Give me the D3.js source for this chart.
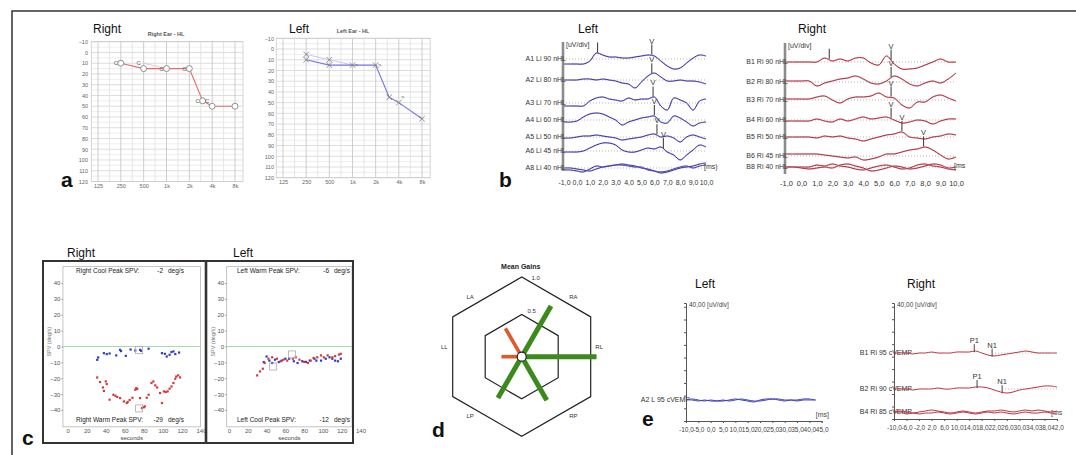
<!DOCTYPE html>
<html lang="en">
<head>
<meta charset="utf-8">
<title>Audiological and vestibular findings</title>
<style>
body { margin: 0; background: #fff; }
svg { display: block; }
svg text { font-family: "Liberation Sans", Arial, sans-serif; }
</style>
</head>
<body>
<script src="https://d3js.org/d3.v7.min.js"></script>
<script>
// ---------- a: audiograms ----------
var freqTicks = [125, 250, 500, 1000, 2000, 4000, 8000];
var freqTickLabels = ["125", "250", "500", "1k", "2k", "4k", "8k"];
var dbTicks = [-10, 0, 10, 20, 30, 40, 50, 60, 70, 80, 90, 100, 110, 120];
var rightAirFreq = [250, 500, 1000, 2000, 3000, 4000, 8000];
var rightAirDb = [10, 15, 15, 15, 45, 50, 50];
var rightBoneFreq = [250, 500, 1000, 2000, 3000, 4000];
var rightBoneDb = [10, 10, 15, 15, 45, 45];
var leftAirFreq = [250, 500, 1000, 2000, 3000, 4000, 8000];
var leftAirDb = [10, 15, 15, 15, 45, 50, 65];
var leftRetestFreq = [250, 500, 1000];
var leftRetestDb = [5, 10, 15];
var leftBoneFreq = [1000, 2000, 4000];
var leftBoneDb = [15, 15, 45];

// ---------- b: ABR ----------
var abrTimes = [-1, -0.5, 0, 0.5, 1, 1.5, 2, 2.5, 3, 3.5, 4, 4.5, 5, 5.5, 6, 6.5, 7, 7.5, 8, 8.5, 9, 9.5, 10];
var abrTicks = [-1, 0, 1, 2, 3, 4, 5, 6, 7, 8, 9, 10];
var abrTickLabels = ["-1,0", "0,0", "1,0", "2,0", "3,0", "4,0", "5,0", "6,0", "7,0", "8,0", "9,0", "10,0"];
var abrLeftNames = ["A1 Li 90 nHL", "A2 Li 80 nHL", "A3 Li 70 nHL", "A4 Li 60 nHL", "A5 Li 50 nHL", "A6 Li 45 nHL", "A8 Li 40 nHL"];
var abrLeftA1 = [-5, -5, -5, -5, -2, 6, 4, 2, 2, 1, 1, 2, 3, 4, 3, -2, -7, -10, -9, -4, 1, 4, 3];
var abrLeftA2 = [0, 0, 0, 1, 1, 0, 1, 0, -1, -3, -4, -8, -2, 4, 7, 3, -1, -1, 0, -1, -1, -2, -4];
var abrLeftA3 = [-3, -3, -3, -3, 2, 5, 6, 4, 3, 2, 5, 3, 4, 4, 6, -3, -7, 5, 3, 0, -7, 2, 4];
var abrLeftA4 = [-2, -2, -1, 3, 6, 7, 6, 3, 0, -5, -2, 0, 2, 3, 4, -2, -3, 4, 2, -2, -6, -3, -2];
var abrLeftA5 = [-1, -1, 0, 1, 1, 2, 1, 0, -1, -3, -2, -1, 0, 2, 3, 0, 1, -1, -5, 0, 2, 0, -2];
var abrLeftA6 = [-1, -1, -1, 0, 3, 6, 8, 8, 6, 1, -1, -1, 1, 3, 2, 4, -1, -4, -9, -4, 1, 6, 4];
var abrLeftA8 = [-2, -2, -3, -4, -1, 2, 1, 2, 3, 3, 2, 1, 1, -2, -3, -4, -3, -1, 1, 2, 0, 2, 3];
var abrLeftA8b = [0, 0, -1, -2, -3, -1, 1, 2, 3, 4, 3, 2, 0, -1, -3, -5, -4, -2, 0, 1, 2, 4, 5];
var abrLeftPeakRow = [0, 0, 1, 2, 3, 4, 5];
var abrLeftPeakTime = [1.6, 5.8, 5.8, 5.9, 6.0, 6.2, 6.7];
var abrLeftPeakName = ["I", "V", "V", "V", "V", "V", "V"];

var abrRightNames = ["B1 Ri 90 nHL", "B2 Ri 80 nHL", "B3 Ri 70 nHL", "B4 Ri 60 nHL", "B5 Ri 50 nHL", "B6 Ri 45 nHL", "B8 Ri 40 nHL"];
var abrRightB1 = [0, 0, 0, 0, 0, 4, 1, 3, 1, 4, 4, -1, -3, 6, -2, -7, -7, -6, -3, 0, 3, 0, 0];
var abrRightB2 = [1, 1, 1, 1, -4, -1, 1, 3, 4, 6, 3, -1, -2, 1, 6, 3, -2, -4, -1, 1, -1, 3, 9];
var abrRightB3 = [1, 1, 1, 1, 3, 4, 0, -3, 1, 3, 3, 4, 7, 3, 2, -5, -8, -2, -2, 3, 5, 2, -1];
var abrRightB4 = [-1, -1, -1, -1, 1, -1, -2, 1, -1, 1, 3, 1, 2, 3, 0, -3, -2, 0, -1, -4, -1, 1, 1];
var abrRightB5 = [0, 0, 0, 0, -1, 1, 0, 1, -1, -2, -4, -2, 0, 2, 3, 5, 0, -1, -2, 0, 1, 3, 2];
var abrRightB6 = [2, 2, 2, 2, 2, 1, 0, -1, -2, -1, -4, -3, -1, 2, 2, 4, 6, 7, 9, 6, 1, -3, -1];
var abrRightB8 = [0, 0, 0, 0, 2, 1, 3, 1, 0, -2, -3, -1, 1, 2, 0, -2, -1, 2, 3, 1, 0, -2, -3];
var abrRightB8b = [0, 0, -1, -2, -1, 0, -1, 2, 3, 1, -1, -4, -3, -1, 1, 0, -2, -1, 1, 3, 2, -1, 0];
var abrRightPeakRow = [0, 0, 1, 2, 3, 4, 5];
var abrRightPeakTime = [1.8, 5.8, 5.8, 5.8, 5.8, 6.5, 7.9];
var abrRightPeakName = ["I", "V", "V", "V", "V", "V", "V"];

// ---------- c: caloric test ----------
var spvTicks = [40, 30, 20, 10, 0, -10, -20, -30, -40];
var secTicks = [0, 20, 40, 60, 80, 100, 120, 140];
var rightCoolX = [31, 32, 38, 41, 44, 51, 55, 56, 61, 66, 71, 76, 77, 85, 99, 102, 104, 107, 109, 111, 113, 117];
var rightCoolY = [-8.4, -6.9, -4.2, -4.8, -4.4, -5.6, -2.1, -2.9, -5.9, -1.9, -2.5, -2.1, -2.7, -1.4, -4.2, -4.6, -6.3, -5.2, -3.5, -3.1, -4.8, -3.8];
var rightWarmX = [31, 34, 37, 38, 40, 41, 44, 48, 50, 52, 55, 59, 62, 63, 65, 68, 71, 72, 73, 76, 78, 80, 81, 83, 85, 88, 90, 92, 94, 97, 99, 101, 103, 105, 107, 109, 111, 113, 114, 116, 118];
var rightWarmY = [-19.5, -22.4, -25.8, -28, -22, -23.7, -33.5, -30.4, -31, -31.8, -32.5, -34.6, -35.6, -35, -33.7, -32.3, -27.2, -26.2, -26.8, -32.5, -38.8, -38.3, -37.7, -32.3, -30.4, -23, -22, -24.5, -25.8, -29.3, -35.6, -28.3, -28.7, -28.3, -26.6, -25.2, -23, -20.3, -18.9, -18.2, -19.5];
var leftWarmX = [30, 33, 36, 38, 42, 46, 51, 55, 58, 62, 68, 71, 75, 80, 84, 87, 90, 94, 98, 101, 105, 110, 113, 117, 119];
var leftWarmY = [-18.2, -15.7, -14, -10.4, -7.7, -6.8, -7.7, -9.3, -8.3, -8.9, -7.7, -6.8, -8.3, -9.7, -10.4, -8.9, -7.2, -6.8, -5.6, -6.8, -5.6, -6.8, -6.1, -5.1, -4.6];
var leftCoolX = [37, 40, 43, 46, 49, 53, 56, 60, 64, 69, 73, 78, 82, 86, 91, 93, 98, 103, 107, 110, 113, 116, 119];
var leftCoolY = [-9.8, -6.3, -8.9, -10.4, -8.3, -9.8, -8.9, -7.7, -7.7, -9.3, -10.4, -9.3, -9.7, -8.9, -7.7, -8.9, -8.9, -7.7, -6.8, -7.7, -8.9, -9.3, -7.7];
var rightPeakBoxX = [75, 75];
var rightPeakBoxY = [-2.3, -39];
var leftPeakBoxX = [47, 67];
var leftPeakBoxY = [-12.6, -5];

// ---------- d: vHIT mean gains ----------
var canalNames = ["RL", "RA", "LA", "LL", "LP", "RP"];
var canalAngles = [0, 60, 120, 180, 240, 300];
var canalGains = [1.09, 0.84, 0.44, 0.25, 0.67, 0.71];
var canalStatus = ["normal", "normal", "low", "low", "normal", "normal"];
var gainRings = [0.5, 1.0];
var gainRingLabels = ["0.5", "1.0"];

// ---------- e: cVEMP ----------
var vempLeftTimes = [-10, -7.5, -5, -2.5, 0, 2.5, 5, 7.5, 10, 12.5, 15, 17.5, 20, 22.5, 25, 27.5, 30, 32.5, 35, 37.5, 40, 42.5];
var vempLeftTicks = [-10, -5, 0, 5, 10, 15, 20, 25, 30, 35, 40, 45];
var vempLeftTickLabels = ["-10,0", "-5,0", "0,0", "5,0", "10,0", "15,0", "20,0", "25,0", "30,0", "35,0", "40,0", "45,0"];
var vempLeftA2 = [0, 0, -1, 0, -1, -1, 0, -1, 0, 1, 0, -1, -1, 0, 1, 1, 0, 0, -1, 0, 0, 0];
var vempLeftA2b = [0, 1, 0, -1, 0, -1, -1, 0, 1, 0, -1, -2, 0, 1, 1, 0, -1, 0, 0, 1, 1, 0];
var vempRightTimes = [-10, -8, -6, -4, -2, 0, 2, 4, 6, 8, 10, 12, 14, 16, 18, 20, 22, 24, 26, 28, 30, 32, 34, 36, 38, 40, 42];
var vempRightTicks = [-10, -6, -2, 2, 6, 10, 14, 18, 22, 26, 30, 34, 38, 42];
var vempRightTickLabels = ["-10,0", "-6,0", "-2,0", "2,0", "6,0", "10,0", "14,0", "18,0", "22,0", "26,0", "30,0", "34,0", "38,0", "42,0"];
var vempRightNames = ["B1 Ri 95 cVEMP", "B2 Ri 90 cVEMP", "B4 Ri 85 cVEMP"];
var vempRightB1 = [0, 0, 0, -1, 0, 0, 1, 0, 0, 0, 1, 1, 1, 2, 0, -2, -3, -2, -1, 0, 1, 2, 1, 0, 0, 0, 0];
var vempRightB2 = [0, 0, 0, -1, 0, 0, 0, 1, 0, 0, 1, 1, 1, 2, 2, 1, -1, -3, -4, -3, -1, 0, 1, 2, 3, 3, 2];
var vempRightB4 = [0, 1, 0, -1, 0, 1, 2, 1, 0, -1, 0, 1, 0, -1, 0, 1, 1, 2, 1, 0, 1, 2, 1, 2, 1, 0, 1];
var vempRightB4b = [-1, 0, -2, -1, -2, -1, -1, 0, -1, -2, -1, 0, -1, -2, -1, 0, -1, 0, -1, -2, -1, 0, -1, -1, 0, -1, -2];
var vempPeakRow = [0, 0, 1, 1];
var vempPeakTime = [15.6, 21.3, 16.5, 24.5];
var vempPeakName = ["P1", "N1", "P1", "N1"];

var svg = d3.select("body").append("svg").attr("width", 1076).attr("height", 455);

// figure frame (top and left only)
svg.append("path").attr("d", "M12,455V11H1076")
  .attr("fill", "none").attr("stroke", "#333").attr("stroke-width", 1.5);

function title(x, y, t) {
  svg.append("text").attr("x", x).attr("y", y).attr("font-size", 12).attr("fill", "#111").text(t);
}
function panelLetter(x, y, t) {
  svg.append("text").attr("x", x).attr("y", y).attr("font-size", 21)
    .attr("font-weight", "bold").attr("fill", "#111").text(t);
}
function styleAxis(a, size, color) {
  a.attr("font-family", null);
  a.select(".domain").remove();
  a.selectAll("text").attr("font-size", size).attr("fill", color);
}

// ================= a =================
function drawAudiogram(o) {
  var x = d3.scaleLog().base(2).domain([125, 8000]).range([o.x125, o.x8k]);
  var y = d3.scaleLinear().domain([-10, 120]).range([o.yTop, o.yBot]);
  var g = svg.append("g");
  var gx0 = x(102), gx1 = x(10200);

  g.selectAll("line.h").data(d3.range(-10, 125, 5)).join("line").attr("class", "h")
    .attr("x1", gx0).attr("x2", gx1)
    .attr("y1", function(d) { return y(d); }).attr("y2", function(d) { return y(d); })
    .attr("stroke", function(d) { return d % 10 === 0 ? "#cfcfcf" : "#e6e6e6"; })
    .attr("stroke-width", 0.7);
  g.selectAll("line.v").data(d3.range(0, 13)).join("line").attr("class", "v")
    .attr("x1", function(k) { return x(125 * Math.pow(2, k / 2)); })
    .attr("x2", function(k) { return x(125 * Math.pow(2, k / 2)); })
    .attr("y1", y(-10)).attr("y2", y(120))
    .attr("stroke", function(k) { return k % 2 === 0 ? "#c2c2c2" : "#e0e0e0"; })
    .attr("stroke-width", 0.8);
  g.append("rect").attr("x", gx0).attr("y", y(-10))
    .attr("width", gx1 - gx0).attr("height", y(120) - y(-10))
    .attr("fill", "none").attr("stroke", "#cacaca").attr("stroke-width", 0.8);

  g.append("g").attr("transform", "translate(" + o.yLabelX + ",0)")
    .call(d3.axisLeft(y).tickValues(dbTicks).tickSize(0).tickPadding(0))
    .call(function(a) { styleAxis(a, 5.5, "#666"); });
  g.append("g").attr("transform", "translate(0," + (o.xLabelY - 2) + ")")
    .call(d3.axisBottom(x).tickValues(freqTicks)
      .tickFormat(function(d, i) { return freqTickLabels[i]; }).tickSize(0).tickPadding(0))
    .call(function(a) { styleAxis(a, 5.5, "#666"); });

  g.append("text").attr("x", o.titleX).attr("y", o.titleY).attr("text-anchor", "middle")
    .attr("font-size", 5.5).attr("font-weight", "bold").attr("fill", "#555").text(o.title);

  var line = d3.line().x(function(d) { return x(d[0]); }).y(function(d) { return y(d[1]); });
  var faint = d3.zip(o.faintF, o.faintDb);
  g.append("path").attr("d", line(faint)).attr("fill", "none")
    .attr("stroke", o.faintColor).attr("stroke-width", 0.8);
  var air = d3.zip(o.airF, o.airDb);
  g.append("path").attr("d", line(air)).attr("fill", "none")
    .attr("stroke", o.color).attr("stroke-width", 1.1);

  var pts = o.symbol === "circle" ? air : air.concat(faint.slice(0, 2));
  if (o.symbol === "circle") {
    g.selectAll("circle.m").data(pts).join("circle").attr("class", "m")
      .attr("cx", function(d) { return x(d[0]); }).attr("cy", function(d) { return y(d[1]); })
      .attr("r", 3).attr("fill", "#fff").attr("stroke", "#777").attr("stroke-width", 0.8);
  } else {
    g.selectAll("path.m").data(pts).join("path").attr("class", "m")
      .attr("d", function(d) {
        var cx = x(d[0]), cy = y(d[1]), s = 2.8;
        return "M" + (cx - s) + "," + (cy - s) + "L" + (cx + s) + "," + (cy + s) +
          "M" + (cx - s) + "," + (cy + s) + "L" + (cx + s) + "," + (cy - s);
      })
      .attr("stroke", "#777").attr("stroke-width", 0.8).attr("fill", "none");
  }
  var bone = d3.zip(o.boneF, o.boneDb);
  g.selectAll("text.b").data(bone).join("text").attr("class", "b")
    .attr("x", function(d) { return x(d[0]) + o.boneDx; })
    .attr("y", function(d) { return y(d[1]) + 2; })
    .attr("text-anchor", "middle").attr("font-size", 6).attr("fill", "#666").text(o.boneMark);
}

drawAudiogram({ x125: 98, x8k: 235, yTop: 41.7, yBot: 181.5, yLabelX: 88, xLabelY: 186,
  title: "Right Ear - HL", titleX: 166, titleY: 36,
  airF: rightAirFreq, airDb: rightAirDb, boneF: rightBoneFreq, boneDb: rightBoneDb,
  faintF: rightBoneFreq.slice(1, 3), faintDb: rightBoneDb.slice(1, 3),
  color: "#e46b6b", faintColor: "#f1b3b3", symbol: "circle", boneMark: "C", boneDx: -5 });
drawAudiogram({ x125: 283, x8k: 422, yTop: 38.3, yBot: 177.7, yLabelX: 274, xLabelY: 182,
  title: "Left Ear - HL", titleX: 353, titleY: 33,
  airF: leftAirFreq, airDb: leftAirDb, boneF: leftBoneFreq, boneDb: leftBoneDb,
  faintF: leftRetestFreq, faintDb: leftRetestDb,
  color: "#7777e2", faintColor: "#b8b8f0", symbol: "x", boneMark: ">", boneDx: 4 });

title(93, 33, "Right");
title(289, 33, "Left");
panelLetter(61, 187, "a");

// ================= b =================
function drawABR(o) {
  var x = d3.scaleLinear().domain([-1, 10]).range([o.x0, o.x1]);
  var amp = d3.scaleLinear().domain([-10, 10]).range([10, -10]);
  var g = svg.append("g");
  var axisX = x(-1) - 1;

  o.rows.forEach(function(ry) {
    g.append("line").attr("x1", axisX).attr("x2", x(10)).attr("y1", ry).attr("y2", ry)
      .attr("stroke", "#9a9a9a").attr("stroke-width", 0.7).attr("stroke-dasharray", "1,2");
  });
  g.append("line").attr("x1", axisX).attr("x2", axisX).attr("y1", o.axisTop).attr("y2", o.axisBot)
    .attr("stroke", "#8c8c8c").attr("stroke-width", 2.6);
  g.append("text").attr("x", axisX + 3).attr("y", o.axisTop + 5).attr("font-size", 7)
    .attr("fill", "#333").text("[uV/div]");

  g.selectAll("text.name").data(o.names).join("text").attr("class", "name")
    .attr("x", axisX + 3).attr("y", function(d, i) { return o.rows[i]; }).attr("dy", "0.35em")
    .attr("text-anchor", "end").attr("font-size", 7).attr("fill", "#333")
    .text(function(d) { return d; });

  var traces = o.traces.map(function(t, i) { return { v: t, row: o.rows[i] }; });
  traces.push({ v: o.extra, row: o.rows[o.rows.length - 1] });
  var line = function(row) {
    return d3.line().curve(d3.curveCatmullRom)
      .x(function(d, i) { return x(abrTimes[i]); })
      .y(function(d) { return row + amp(d); });
  };
  traces.forEach(function(t) {
    g.append("path").attr("d", line(t.row)(t.v)).attr("fill", "none")
      .attr("stroke", o.shadow).attr("stroke-width", 1.6).attr("opacity", 0.6);
    g.append("path").attr("d", line(t.row)(t.v)).attr("fill", "none")
      .attr("stroke", o.color).attr("stroke-width", 1);
  });

  o.peakRow.forEach(function(r, i) {
    var tv = d3.scaleLinear().domain(abrTimes).range(o.traces[r])(o.peakTime[i]);
    var px = x(o.peakTime[i]), py = o.rows[r] + amp(tv);
    g.append("line").attr("x1", px).attr("x2", px).attr("y1", py - 11).attr("y2", py - 1)
      .attr("stroke", "#444").attr("stroke-width", 1.1);
    if (o.peakName[i] !== "I") {
      g.append("text").attr("x", px).attr("y", py - 12).attr("text-anchor", "middle")
        .attr("font-size", 7.5).attr("fill", "#333").text(o.peakName[i]);
    }
  });

  g.append("text").attr("x", x(10) - 2).attr("y", o.rows[o.rows.length - 1] + 1)
    .attr("font-size", 7).attr("fill", "#333").text(o.msLabel);

  g.append("g").attr("transform", "translate(0," + (o.tickY - 2.5) + ")")
    .call(d3.axisBottom(x).tickValues(abrTicks)
      .tickFormat(function(d, i) { return abrTickLabels[i]; }).tickSize(0).tickPadding(0))
    .call(function(a) { styleAxis(a, o.tickFont, "#333"); });
}

drawABR({ x0: 564, x1: 706, axisTop: 42, axisBot: 171, tickY: 183, tickFont: 7,
  rows: [59, 80, 103, 120, 137, 151, 168], names: abrLeftNames,
  traces: [abrLeftA1, abrLeftA2, abrLeftA3, abrLeftA4, abrLeftA5, abrLeftA6, abrLeftA8],
  extra: abrLeftA8b, peakRow: abrLeftPeakRow, peakTime: abrLeftPeakTime, peakName: abrLeftPeakName,
  color: "#3b33a8", shadow: "#b9b6d6", msLabel: "[ms)" });
drawABR({ x0: 786, x1: 956, axisTop: 43, axisBot: 174, tickY: 183, tickFont: 7.5,
  rows: [62, 82, 100, 120, 137, 156, 167], names: abrRightNames,
  traces: [abrRightB1, abrRightB2, abrRightB3, abrRightB4, abrRightB5, abrRightB6, abrRightB8],
  extra: abrRightB8b, peakRow: abrRightPeakRow, peakTime: abrRightPeakTime, peakName: abrRightPeakName,
  color: "#b32a3a", shadow: "#dcb4b8", msLabel: "[ms" });

title(578, 33, "Left");
title(798, 33, "Right");
panelLetter(499, 187, "b");

// ================= c =================
function drawCaloric(o) {
  var x = d3.scaleLinear().domain([0, 140]).range([o.x0, o.x140]);
  var y = d3.scaleLinear().domain([-40, 40]).range([410, 283]);
  var g = svg.append("g");
  var left = x(o.minSec), right = o.right, top = y(50.3), bot = y(-50.6);

  g.append("rect").attr("x", left).attr("y", top).attr("width", right - left).attr("height", bot - top)
    .attr("fill", "#fff").attr("stroke", "#b5b5b5").attr("stroke-width", 0.8);
  g.append("line").attr("x1", left).attr("x2", right).attr("y1", y(0)).attr("y2", y(0))
    .attr("stroke", "#8fd08f").attr("stroke-width", 0.8);

  g.append("g").attr("transform", "translate(" + left + ",0)")
    .call(d3.axisLeft(y).tickValues(spvTicks).tickSize(1.5).tickPadding(1))
    .call(function(a) { styleAxis(a, 6, "#555"); a.selectAll("line").attr("stroke", "#999"); });
  g.append("g").attr("transform", "translate(0," + bot + ")")
    .call(d3.axisBottom(x).tickValues(secTicks).tickSize(0).tickPadding(2))
    .call(function(a) { styleAxis(a, 6, "#555"); });
  g.append("text").attr("x", (left + right) / 2).attr("y", 440).attr("text-anchor", "middle")
    .attr("font-size", 6).attr("fill", "#444").text("seconds");
  g.append("text").attr("transform", "translate(" + (left - 12) + "," + y(3) + ") rotate(-90)")
    .attr("text-anchor", "middle").attr("font-size", 5.5).attr("fill", "#777").text("SPV (deg/s)");

  [[o.aX, o.aY, o.aColor], [o.bX, o.bY, o.bColor]].forEach(function(s) {
    g.selectAll(null).data(d3.zip(s[0], s[1])).join("rect")
      .attr("x", function(d) { return x(d[0]) - 1.1; }).attr("y", function(d) { return y(d[1]) - 1.1; })
      .attr("width", 2.2).attr("height", 2.2).attr("fill", s[2]);
  });
  g.selectAll(null).data(d3.zip(o.boxX, o.boxY)).join("rect")
    .attr("x", function(d) { return x(d[0]) - 3.5; }).attr("y", function(d) { return y(d[1]) - 3.5; })
    .attr("width", 7).attr("height", 7).attr("fill", "none").attr("stroke", "#aaa").attr("stroke-width", 0.8);

  [[o.topText, o.topVal, 273], [o.botText, o.botVal, 422]].forEach(function(t) {
    g.append("text").attr("x", o.textX).attr("y", t[2]).attr("font-size", 6.5).attr("fill", "#222").text(t[0]);
    g.append("text").attr("x", o.valX).attr("y", t[2]).attr("text-anchor", "end")
      .attr("font-size", 6.5).attr("fill", "#222").text(t[1]);
    g.append("text").attr("x", o.valX + 5).attr("y", t[2]).attr("font-size", 6.5).attr("fill", "#222").text("deg/s");
  });
}

drawCaloric({ x0: 67.7, x140: 201, minSec: -5, right: 200.5,
  aX: rightCoolX, aY: rightCoolY, aColor: "#2f3cc0", bX: rightWarmX, bY: rightWarmY, bColor: "#d33a3a",
  boxX: rightPeakBoxX, boxY: rightPeakBoxY,
  topText: "Right Cool Peak SPV:", topVal: "-2", botText: "Right Warm Peak SPV:", botVal: "-29",
  textX: 76, valX: 163 });
drawCaloric({ x0: 229, x140: 360.5, minSec: -2.5, right: 352,
  aX: leftCoolX, aY: leftCoolY, aColor: "#2f3cc0", bX: leftWarmX, bY: leftWarmY, bColor: "#d33a3a",
  boxX: leftPeakBoxX, boxY: leftPeakBoxY,
  topText: "Left Warm Peak SPV:", topVal: "-6", botText: "Left Cool Peak SPV:", botVal: "-12",
  textX: 237, valX: 329 });

svg.append("rect").attr("x", 43).attr("y", 261).attr("width", 310).attr("height", 182)
  .attr("fill", "none").attr("stroke", "#333").attr("stroke-width", 2);
svg.append("line").attr("x1", 206).attr("x2", 206).attr("y1", 261).attr("y2", 443)
  .attr("stroke", "#333").attr("stroke-width", 2.6);

title(67, 257, "Right");
title(233, 257, "Left");
panelLetter(22, 445, "c");

// ================= d =================
(function() {
  var cx = 521.7, cy = 356.7;
  var r = d3.scaleLinear().domain([0, 1]).range([4, 69]);
  var g = svg.append("g");
  function hexPoints(level) {
    var R = r(level) / Math.cos(Math.PI / 6);
    return d3.range(6).map(function(k) {
      var a = (30 + 60 * k) * Math.PI / 180;
      return [cx + R * Math.cos(a), cy - R * Math.sin(a)];
    });
  }
  gainRings.forEach(function(lv, i) {
    var p = hexPoints(lv);
    g.append("path").attr("d", "M" + p.join("L") + "Z").attr("fill", "none")
      .attr("stroke", "#222").attr("stroke-width", 1.2);
    // ring value sits just right of the top vertex
    g.append("text").attr("x", p[1][0] + 6 + 8 * lv).attr("y", p[1][1] - 6 + 9 * lv)
      .attr("text-anchor", "middle").attr("font-size", 6).attr("fill", "#333").text(gainRingLabels[i]);
  });
  g.append("text").attr("x", cx - 1).attr("y", 269).attr("text-anchor", "middle")
    .attr("font-size", 7).attr("font-weight", "bold").attr("fill", "#222").text("Mean Gains");

  canalNames.forEach(function(name, i) {
    var a = canalAngles[i] * Math.PI / 180;
    var low = canalStatus[i] === "low";
    var len = r(canalGains[i]);
    g.append("line").attr("x1", cx).attr("y1", cy)
      .attr("x2", cx + len * Math.cos(a)).attr("y2", cy - len * Math.sin(a))
      .attr("stroke", low ? "#e2572b" : "#3c8a1c").attr("stroke-width", low ? 3.6 : 5);
    var lr = r(1.18);
    var diag = canalAngles[i] % 180 !== 0;
    var lx = cx + lr * Math.cos(a) * (diag ? 1.28 : 0.96);
    var ly = cy - lr * Math.sin(a) * (diag ? 0.85 : 1) - (diag ? 0 : 10);
    g.append("text").attr("x", lx).attr("y", ly).attr("dy", "0.35em").attr("text-anchor", "middle")
      .attr("font-size", 6).attr("fill", "#333").text(name);
  });
  g.append("circle").attr("cx", cx).attr("cy", cy).attr("r", 4.5)
    .attr("fill", "#fff").attr("stroke", "#222").attr("stroke-width", 1.2);
})();
panelLetter(432, 437, "d");

// ================= e =================
function drawVEMP(o) {
  var x = d3.scaleLinear().domain(o.domain).range([o.x0, o.x1]);
  var amp = d3.scaleLinear().domain([-10, 10]).range([10, -10]);
  var div = d3.scaleLinear().domain([0, 9.3]).range([o.axisBot, o.axisTop]);
  var g = svg.append("g");
  var ax = x(o.domain[0]);

  g.append("g").attr("transform", "translate(" + ax + ",0)")
    .call(d3.axisLeft(div).tickValues(d3.range(1, 10)).tickSize(2).tickFormat(""))
    .call(function(a) { a.select(".domain").attr("stroke", "#555"); a.selectAll("line").attr("stroke", "#555"); });
  g.append("g").attr("transform", "translate(0," + o.axisBot + ")")
    .call(d3.axisBottom(x).tickValues(o.ticks)
      .tickFormat(function(d, i) { return o.tickLabels[i]; }).tickSize(2).tickPadding(4))
    .call(function(a) {
      a.attr("font-family", null);
      a.select(".domain").attr("stroke", "#555");
      a.selectAll("line").attr("stroke", "#555");
      a.selectAll("text").attr("font-size", 6.5).attr("fill", "#444");
    });
  g.append("text").attr("x", ax + 3).attr("y", o.axisTop + 4).attr("font-size", 6.5)
    .attr("fill", "#444").text("40,00 [uV/div]");
  g.append("text").attr("x", x(o.domain[1]) - 6).attr("y", o.axisBot - 4).attr("font-size", 7)
    .attr("fill", "#444").text(o.msLabel);

  g.selectAll("text.name").data(o.names).join("text").attr("class", "name")
    .attr("x", ax + o.nameDx).attr("y", function(d, i) { return o.rows[i]; }).attr("dy", "0.35em")
    .attr("text-anchor", "end").attr("font-size", 7).attr("fill", "#333")
    .text(function(d) { return d; });

  o.traces.forEach(function(t) {
    var row = o.rows[t[1]];
    var line = d3.line().curve(d3.curveCatmullRom)
      .x(function(d, i) { return x(o.times[i]); }).y(function(d) { return row + amp(d); });
    g.append("path").attr("d", line(t[0])).attr("fill", "none")
      .attr("stroke", o.color).attr("stroke-width", 1);
  });

  (o.peakRow || []).forEach(function(rw, i) {
    var tv = d3.scaleLinear().domain(o.times).range(o.traces[rw][0])(o.peakTime[i]);
    var px = x(o.peakTime[i]), py = o.rows[rw] + amp(tv);
    g.append("line").attr("x1", px).attr("x2", px).attr("y1", py - 7).attr("y2", py + 1)
      .attr("stroke", "#444").attr("stroke-width", 1);
    g.append("text").attr("x", px).attr("y", py - 8).attr("text-anchor", "middle")
      .attr("font-size", 7.5).attr("fill", "#333").text(o.peakName[i]);
    if (o.peakName[i] === "N1") {
      g.append("line").attr("x1", px).attr("x2", x(o.domain[1])).attr("y1", o.rows[rw]).attr("y2", o.rows[rw])
        .attr("stroke", "#999").attr("stroke-width", 0.7).attr("stroke-dasharray", "1,2");
    }
  });
}

drawVEMP({ domain: [-10, 45], x0: 686, x1: 821.7, axisTop: 303, axisBot: 421,
  times: vempLeftTimes, ticks: vempLeftTicks, tickLabels: vempLeftTickLabels,
  names: ["A2 L 95 cVEMP"], rows: [400], nameDx: 4,
  traces: [[vempLeftA2, 0], [vempLeftA2b, 0]], color: "#4040b8", msLabel: "[ms]" });
drawVEMP({ domain: [-10, 42], x0: 894, x1: 1057, axisTop: 303, axisBot: 419,
  times: vempRightTimes, ticks: vempRightTicks, tickLabels: vempRightTickLabels,
  names: vempRightNames, rows: [353, 389, 412], nameDx: 18,
  traces: [[vempRightB1, 0], [vempRightB2, 1], [vempRightB4, 2], [vempRightB4b, 2]],
  peakRow: vempPeakRow, peakTime: vempPeakTime, peakName: vempPeakName,
  color: "#c0303a", msLabel: "[ms" });

title(695, 288, "Left");
title(907, 288, "Right");
panelLetter(642, 426, "e");
</script>
</body>
</html>
